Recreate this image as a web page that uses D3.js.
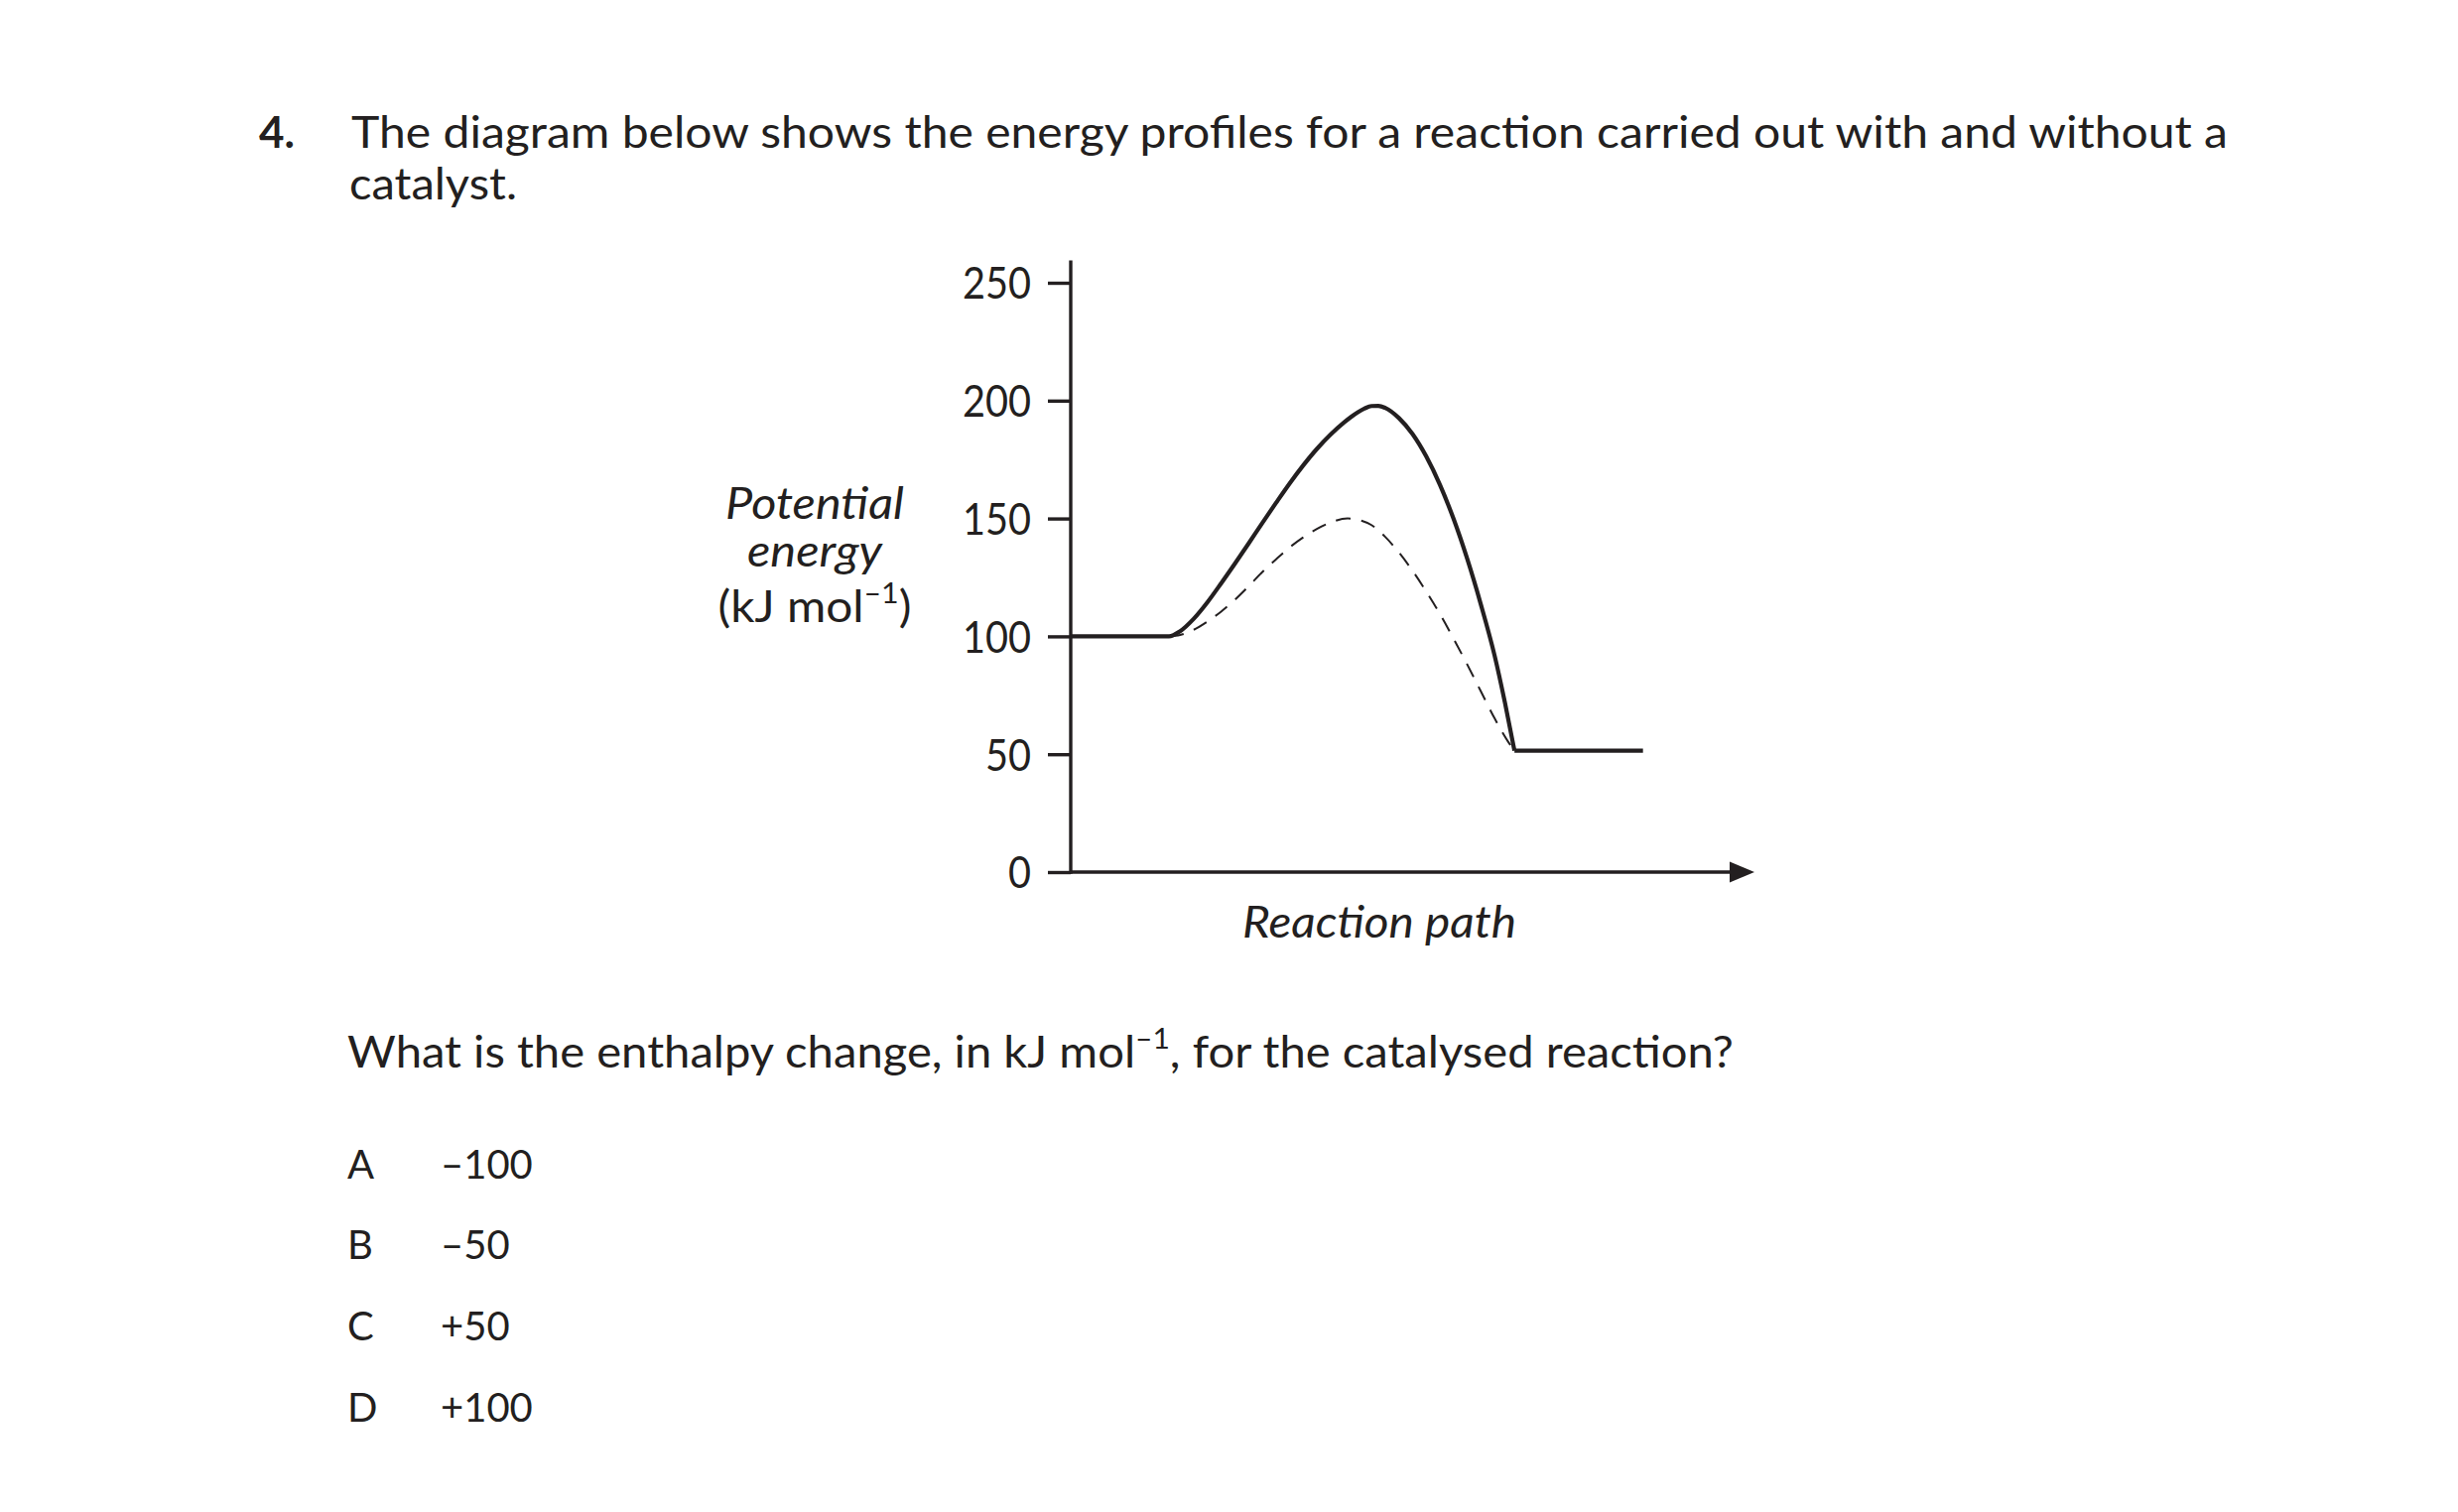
<!DOCTYPE html>
<html>
<head>
<meta charset="utf-8">
<script src="https://cdn.jsdelivr.net/npm/d3@7"></script>
<style>
  html, body { margin: 0; padding: 0; background: #fff; }
  svg text { font-family: Lato, "Open Sans", sans-serif; fill: #231f20; }
</style>
</head>
<body>
<svg id="chart" width="2477" height="1524"></svg>
<script>
// ---------- data ----------
const yTicks = [0, 50, 100, 150, 200, 250];
const yAxisTop = 259.5;           // top of the drawn energy axis (kJ/mol)
const xAxisEnd = 100;             // reaction-path arrow tip

// uncatalysed profile (solid): reaction path position, energy kJ/mol
const solidX = [0, 14.37, 16, 18, 20, 22, 24, 26, 28, 30, 32, 34, 36, 38, 40, 41, 42, 43, 44, 45, 46, 48, 50, 52, 54, 56, 58, 60, 62, 63.5, 64.9];
const solidY = [100, 100, 102.2, 107.5, 114.5, 122.5, 130.8, 139.3, 148, 156.5, 164.8, 172.5, 179.5, 185.6, 190.8, 193.1, 195.1, 196.7, 197.7, 197.8, 196.9, 192.6, 185.8, 176.3, 164.3, 149.8, 132.8, 113.4, 91.8, 72.0, 51.5];

// catalysed profile (dashed)
const dashedX = [14.37, 16, 18, 20, 22, 24, 26, 28, 30, 32, 34, 36, 38, 40.5, 42.5, 44, 46, 48, 50, 52, 54, 56, 58, 60, 62, 64, 64.9];
const dashedY = [100, 100.6, 102.8, 106.3, 110.5, 115.5, 121.2, 127.2, 132.6, 137.7, 142, 145.6, 148.3, 150, 149.1, 147.2, 142.2, 135.6, 127.8, 119, 109.5, 99, 88, 76.6, 65.2, 55.2, 51.5];

// products level
const productX = [64.9, 83.7];
const productY = [51.5, 51.5];

const optionLetters = ["A", "B", "C", "D"];
const optionValues = ["–100", "–50", "+50", "+100"];

// ---------- drawing ----------
const ink = "#231f20";
const svg = d3.select("#chart");

const x = d3.scaleLinear().domain([0, 100]).range([1079, 1768]);
const y = d3.scaleLinear().domain([0, 250]).range([879, 285]);

function fit(sel, w) {
  const n = sel.node();
  const len = n.getComputedTextLength();
  if (Math.abs(len - w) / w > 0.015) {
    sel.attr("textLength", w).attr("lengthAdjust", "spacingAndGlyphs");
  }
  return sel;
}

// question header
svg.append("text").attr("x", 261).attr("y", 149)
  .attr("font-size", 44).attr("font-weight", "bold").text("4.");
fit(svg.append("text").attr("x", 354).attr("y", 149).attr("font-size", 44)
  .text("The diagram below shows the energy profiles for a reaction carried out with and without a"), 1891);
fit(svg.append("text").attr("x", 352).attr("y", 201).attr("font-size", 44)
  .text("catalyst."), 169);

// y axis ticks + labels
const yAxis = d3.axisLeft(y).tickValues(yTicks).tickSize(23).tickPadding(17).tickSizeOuter(0);
const gy = svg.append("g").attr("transform", `translate(${x(0)},0)`).call(yAxis);
gy.select(".domain").remove();
gy.selectAll(".tick line").attr("stroke", ink).attr("stroke-width", 3.4);
gy.selectAll(".tick text")
  .attr("font-size", 44)
  .attr("font-family", "Lato, 'Open Sans', sans-serif")
  .attr("fill", ink)
  .attr("dy", "0.36em")
  .each(function () { fit(d3.select(this), this.textContent.length * 23); });

// axis lines
svg.append("line")
  .attr("x1", x(0)).attr("x2", x(0))
  .attr("y1", y(0) + 1.7).attr("y2", y(yAxisTop))
  .attr("stroke", ink).attr("stroke-width", 3.4);
svg.append("line")
  .attr("x1", x(0)).attr("x2", x(xAxisEnd) - 22)
  .attr("y1", y(0)).attr("y2", y(0))
  .attr("stroke", ink).attr("stroke-width", 3.4);
svg.append("path")
  .attr("d", `M${x(xAxisEnd)},${y(0)} L${x(xAxisEnd) - 25},${y(0) - 10.5} L${x(xAxisEnd) - 25},${y(0) + 10.5} Z`)
  .attr("fill", ink);

// curves
const line = d3.line().x(d => x(d[0])).y(d => y(d[1])).curve(d3.curveMonotoneX);
const straight = d3.line().x(d => x(d[0])).y(d => y(d[1]));

svg.append("path")
  .attr("d", line(dashedX.map((v, i) => [v, dashedY[i]])))
  .attr("fill", "none").attr("stroke", ink).attr("stroke-width", 2)
  .attr("stroke-dasharray", "15,11");

svg.append("path")
  .attr("d", line(solidX.map((v, i) => [v, solidY[i]])))
  .attr("fill", "none").attr("stroke", ink).attr("stroke-width", 4.2)
  .attr("stroke-linejoin", "round");

svg.append("path")
  .attr("d", straight(productX.map((v, i) => [v, productY[i]])))
  .attr("fill", "none").attr("stroke", ink).attr("stroke-width", 4.2);

// axis titles
const yl = [["Potential", 523, 180], ["energy", 571, 136]];
yl.forEach(([t, by, w]) => {
  fit(svg.append("text").attr("x", 821).attr("y", by).attr("text-anchor", "middle")
    .attr("font-size", 44).attr("font-style", "italic").text(t), w);
});
const unit = svg.append("text").attr("x", 821).attr("y", 627).attr("text-anchor", "middle").attr("font-size", 44);
unit.append("tspan").text("(kJ mol");
unit.append("tspan").attr("font-size", 28).attr("dy", -19).text("–1");
unit.append("tspan").attr("dy", 19).text(")");
fit(unit, 195);

fit(svg.append("text").attr("x", 1390).attr("y", 945).attr("text-anchor", "middle")
  .attr("font-size", 44).attr("font-style", "italic").text("Reaction path"), 276);

// question
const q = svg.append("text").attr("x", 350).attr("y", 1076).attr("font-size", 44);
q.append("tspan").text("What is the enthalpy change, in kJ mol");
q.append("tspan").attr("font-size", 28).attr("dy", -19).text("–1");
q.append("tspan").attr("dy", 19).text(", for the catalysed reaction?");
fit(q, 1397);

// options
const optY = [1188, 1269, 1351, 1433];
optionLetters.forEach((L, i) => {
  svg.append("text").attr("x", 350).attr("y", optY[i]).attr("font-size", 40).text(L);
  svg.append("text").attr("x", 444).attr("y", optY[i]).attr("font-size", 40).text(optionValues[i]);
});
</script>
</body>
</html>
